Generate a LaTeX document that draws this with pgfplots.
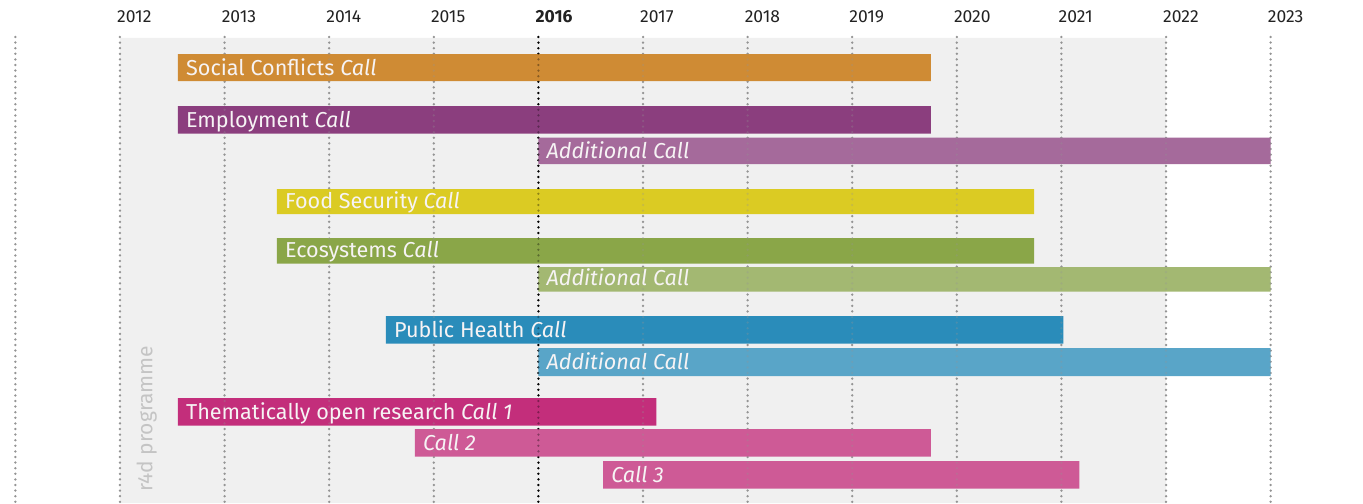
\documentclass[border=0pt]{standalone}
\usepackage{fontspec}
\setmainfont{Fira Sans}
\usepackage{pgfplots}
\pgfplotsset{compat=1.18}
\definecolor{bggray}{HTML}{F0F0F0}
\definecolor{gridgray}{HTML}{949494}
\definecolor{yeartext}{HTML}{222222}
\definecolor{bartext}{HTML}{F6F3F4}
\definecolor{progtext}{HTML}{C4C4C4}
\definecolor{cSocial}{HTML}{CF8B34}
\definecolor{cEmp}{HTML}{8B3E7E}
\definecolor{cEmpAdd}{HTML}{A56A9B}
\definecolor{cFood}{HTML}{DBCB23}
\definecolor{cEco}{HTML}{8AA648}
\definecolor{cEcoAdd}{HTML}{A3B872}
\definecolor{cPH}{HTML}{2A8CBA}
\definecolor{cPHAdd}{HTML}{59A5C8}
\definecolor{cOpen}{HTML}{C32E7B}
\definecolor{cOpenB}{HTML}{CE5A96}
\newcommand{\gbar}[5]{%
  \addplot[fill=#5, draw=none] coordinates {(#1,#3) (#2,#3) (#2,#4) (#1,#4) (#1,#3)};
}
\newcommand{\glabel}[3]{%
  \node[anchor=base west, inner sep=0pt, xshift=8pt, text=bartext,
        font=\fontsize{21.6}{21.6}\selectfont] at (axis cs:#1,#2) {#3};
}
\newcommand{\yearlabel}[2]{%
  \node[anchor=base west, inner sep=0pt, xshift=-3pt, text=yeartext,
        font=\fontsize{17.5}{17.5}\selectfont] at (axis cs:#1,22.7) {#2};
}
\tikzset{gridline/.style={gridgray, line width=2.5pt, line cap=round, dash pattern=on 0pt off 5.6pt}}
\begin{document}
\begin{tikzpicture}
\begin{axis}[
  scale only axis, width=1363pt, height=503pt,
  xmin=2010.853, xmax=2023.883, ymin=0, ymax=503, y dir=reverse,
  hide axis, clip=false,
]
% grey programme background
\addplot[fill=bggray, draw=none] coordinates {(2012,38) (2022,38) (2022,503) (2012,503) (2012,38)};
% grid lines (behind)
\pgfplotsinvokeforeach{2011,2012,2013,2014,2015,2017,2018,2019,2020,2021,2022,2023}{
  \addplot[gridline] coordinates {(#1,37) (#1,503)};
}
\addplot[gridline, black] coordinates {(2016,37) (2016,503)};
% bars: start, end, top, bottom
\gbar{2012.554}{2019.753}{54}{81}{cSocial}
\gbar{2012.554}{2019.753}{106}{133.5}{cEmp}
\gbar{2016.0}{2023.0}{137.5}{164}{cEmpAdd}
\gbar{2013.501}{2020.738}{189}{214}{cFood}
\gbar{2013.501}{2020.738}{238}{263.5}{cEco}
\gbar{2016.0}{2023.0}{267}{291.7}{cEcoAdd}
\gbar{2014.543}{2021.018}{316}{343.5}{cPH}
\gbar{2016.0}{2023.0}{348}{376}{cPHAdd}
\gbar{2012.554}{2017.127}{398}{425.5}{cOpen}
\gbar{2014.820}{2019.753}{429}{456.5}{cOpenB}
\gbar{2016.618}{2021.171}{461}{488.5}{cOpenB}
% grid lines shining through the bars
\pgfplotsinvokeforeach{2011,2012,2013,2014,2015,2017,2018,2019,2020,2021,2022,2023}{
  \addplot[gridline, opacity=0.3] coordinates {(#1,37) (#1,503)};
}
\addplot[gridline, black, opacity=0.35] coordinates {(2016,37) (2016,503)};
% labels
\glabel{2012.554}{75}{Social Conflicts \textit{Call}}
\glabel{2012.554}{127}{Employment \textit{Call}}
\glabel{2016.0}{158}{\textit{Additional Call}}
\glabel{2013.501}{208}{Food Security \textit{Call}}
\glabel{2013.501}{257.5}{Ecosystems \textit{Call}}
\glabel{2016.0}{285.5}{\textit{Additional Call}}
\glabel{2014.543}{337}{Public Health \textit{Call}}
\glabel{2016.0}{369.5}{\textit{Additional Call}}
\glabel{2012.554}{419}{Thematically open research \textit{Call 1}}
\glabel{2014.820}{450}{\textit{Call 2}}
\glabel{2016.618}{482}{\textit{Call 3}}
% year labels
\yearlabel{2012}{2012}
\yearlabel{2013}{2013}
\yearlabel{2014}{2014}
\yearlabel{2015}{2015}
\yearlabel{2016}{\textbf{2016}}
\yearlabel{2017}{2017}
\yearlabel{2018}{2018}
\yearlabel{2019}{2019}
\yearlabel{2020}{2020}
\yearlabel{2021}{2021}
\yearlabel{2022}{2022}
\yearlabel{2023}{2023}
% programme label
\node[rotate=90, anchor=base west, inner sep=0pt, text=progtext,
      font=\fontsize{21}{21}\selectfont] at (axis cs:2012.31,492) {r4d programme};
\end{axis}
\pgfresetboundingbox
\path[use as bounding box] (current axis.south west) rectangle (current axis.north east);
\end{tikzpicture}
\end{document}
